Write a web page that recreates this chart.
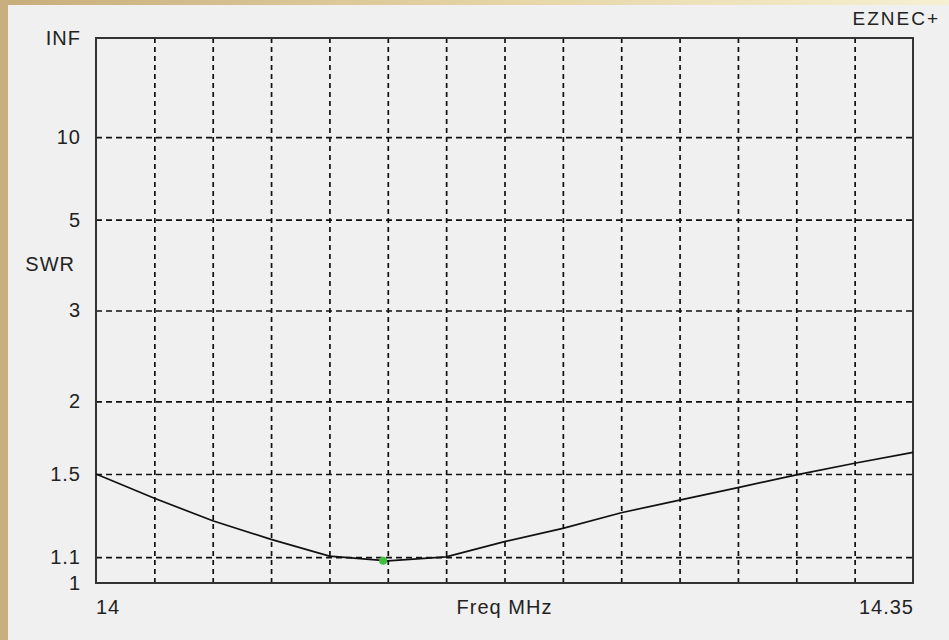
<!DOCTYPE html>
<html>
<head>
<meta charset="utf-8">
<script src="https://cdn.jsdelivr.net/npm/d3@7"></script>
<style>
	html, body { margin: 0; padding: 0; background: #f0f0f0; }
	svg { display: block; }
	text { font-family: "Liberation Sans", Arial, sans-serif; fill: #222; letter-spacing: 1px; }
</style>
</head>
<body>
<div id="chart"></div>
<script>
// Frequency points (MHz) and SWR
const freqs = [14.0, 14.025, 14.05, 14.075, 14.1, 14.125, 14.15, 14.175, 14.2, 14.225, 14.25, 14.275, 14.3, 14.325, 14.35]
const swrValues = [1.5, 1.368, 1.258, 1.174, 1.104, 1.085, 1.101, 1.164, 1.223, 1.296, 1.359, 1.424, 1.495, 1.563, 1.631]

// Marker at the SWR minimum
const markerFreq = [14.123]
const markerSwr = [1.085]

// Y axis (SWR) ticks and labels
const swrTicks = [1, 1.1, 1.5, 2, 3, 5, 10, Infinity]
const swrLabels = ["1", "1.1", "1.5", "2", "3", "5", "10", "INF"]
const swrGrid = [1.1, 1.5, 2, 3, 5, 10]

// X axis labels
const freqLabels = [
	{ value: 14.0, text: "14", anchor: "start" },
	{ value: 14.35, text: "14.35", anchor: "end" },
]

const width = 949
const height = 640
const margin = { top: 38, right: 36, bottom: 57, left: 96 }

const svg = d3
	.select("#chart")
	.append("svg")
	.attr("width", width)
	.attr("height", height)

// Window-ish frame: tan left strip, gradient top strip
const defs = svg.append("defs")
const grad = defs
	.append("linearGradient")
	.attr("id", "topGrad")
	.attr("x1", "0%")
	.attr("x2", "100%")
grad.append("stop").attr("offset", "0%").attr("stop-color", "#c8ad7b")
grad.append("stop").attr("offset", "55%").attr("stop-color", "#e6d6a8")
grad.append("stop").attr("offset", "100%").attr("stop-color", "#f6f0d2")

svg.append("rect")
	.attr("width", width)
	.attr("height", height)
	.attr("fill", "#f0f0f0")
svg.append("rect")
	.attr("width", width)
	.attr("height", 5)
	.attr("fill", "url(#topGrad)")
svg.append("rect")
	.attr("width", 8)
	.attr("height", height)
	.attr("fill", "#c8b07e")

// Scales: SWR is drawn linear in reflection coefficient
const rho = (s) => (s === Infinity ? 1 : (s - 1) / (s + 1))

const xScale = d3
	.scaleLinear()
	.domain([freqs[0], freqs[freqs.length - 1]])
	.range([margin.left, width - margin.right])

const rhoScale = d3
	.scaleLinear()
	.domain([0, 1])
	.range([height - margin.bottom, margin.top])

const yScale = (s) => rhoScale(rho(s))

const plotW = width - margin.left - margin.right
const plotH = height - margin.top - margin.bottom

// Horizontal dashed grid
svg.append("g")
	.attr("class", "grid-y")
	.attr("transform", `translate(${margin.left},0)`)
	.call(
		d3
			.axisLeft(rhoScale)
			.tickValues(swrGrid.map(rho))
			.tickSize(-plotW)
			.tickFormat("")
	)
	.call((g) => g.select(".domain").remove())
	.call((g) =>
		g
			.selectAll("line")
			.attr("stroke", "#111")
			.attr("stroke-width", 1.7)
			.attr("stroke-dasharray", "6,4")
	)

// Vertical dashed grid
svg.append("g")
	.attr("class", "grid-x")
	.attr("transform", `translate(0,${height - margin.bottom})`)
	.call(
		d3
			.axisBottom(xScale)
			.tickValues(freqs.slice(1, -1))
			.tickSize(-plotH)
			.tickFormat("")
	)
	.call((g) => g.select(".domain").remove())
	.call((g) =>
		g
			.selectAll("line")
			.attr("stroke", "#111")
			.attr("stroke-width", 1.7)
			.attr("stroke-dasharray", "5,4")
	)

// Plot frame
svg.append("rect")
	.attr("x", margin.left)
	.attr("y", margin.top)
	.attr("width", plotW)
	.attr("height", plotH)
	.attr("fill", "none")
	.attr("stroke", "#333")
	.attr("stroke-width", 2)

// Y tick labels
const yAxis = svg
	.append("g")
	.attr("transform", `translate(${margin.left - 15},0)`)
	.call(
		d3
			.axisLeft(rhoScale)
			.tickValues(swrTicks.map(rho))
			.tickSize(0)
			.tickPadding(0)
			.tickFormat((d, i) => swrLabels[i])
	)
yAxis.select(".domain").remove()
yAxis
	.selectAll("text")
	.style("font-family", '"Liberation Sans", Arial, sans-serif')
	.style("font-size", "20px")
	.attr("fill", "#222")

svg.append("text")
	.attr("x", 75)
	.attr("y", 266)
	.attr("text-anchor", "end")
	.attr("dominant-baseline", "middle")
	.style("font-size", "20px")
	.text("SWR")

// X labels
freqLabels.forEach((d) => {
	svg.append("text")
		.attr("x", xScale(d.value) + (d.anchor === "end" ? 1 : 0))
		.attr("y", 609)
		.attr("text-anchor", d.anchor)
		.attr("dominant-baseline", "middle")
		.style("font-size", "20px")
		.text(d.text)
})

svg.append("text")
	.attr("x", margin.left + plotW / 2)
	.attr("y", 609)
	.attr("text-anchor", "middle")
	.attr("dominant-baseline", "middle")
	.style("font-size", "20px")
	.text("Freq MHz")

svg.append("text")
	.attr("x", 940)
	.attr("y", 20)
	.attr("text-anchor", "end")
	.attr("dominant-baseline", "middle")
	.style("font-size", "19px")
	.style("letter-spacing", "2px")
	.text("EZNEC+")

// SWR curve
const points = freqs.map((f, i) => ({ f: f, s: swrValues[i] }))
const line = d3
	.line()
	.x((d) => xScale(d.f))
	.y((d) => yScale(d.s))

svg.append("path")
	.datum(points)
	.attr("fill", "none")
	.attr("stroke", "#111")
	.attr("stroke-width", 1.7)
	.attr("d", line)

// Minimum marker
svg.selectAll(".marker")
	.data(markerFreq.map((f, i) => ({ f: f, s: markerSwr[i] })))
	.enter()
	.append("circle")
	.attr("class", "marker")
	.attr("cx", (d) => xScale(d.f))
	.attr("cy", (d) => yScale(d.s))
	.attr("r", 4)
	.attr("fill", "#3fbf3f")
</script>
</body>
</html>
